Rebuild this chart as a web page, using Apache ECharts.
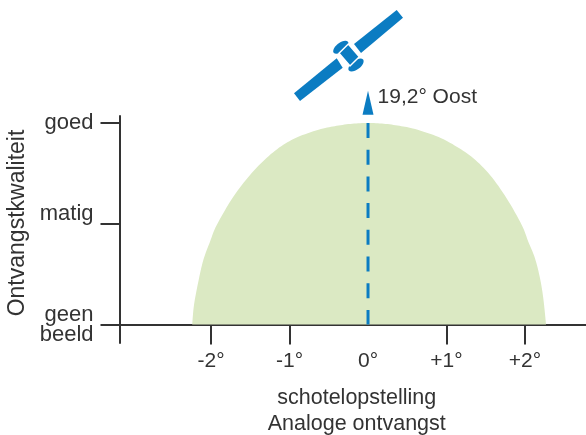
<!DOCTYPE html>
<html><head><meta charset="utf-8">
<style>html,body{margin:0;padding:0;background:#fff}#c{width:586px;height:435px}</style>
<script src="https://cdn.jsdelivr.net/npm/echarts@6/dist/echarts.min.js"></script>
</head><body><div id="c"></div>
<script>
const qualityTicks = [0, 1, 2];
const qualityLabels = ['geen\nbeeld', 'matig\n ', 'goed'];
const offsetLabelValues = [-2, -1, 0, 1, 2];
const offsetLabels = ['-2°', '-1°', '0°', '+1°', '+2°'];
const offsetTickValues = [-2, -1, 1, 2];
const domeX = [-2.24, -2.217, -2.162, -2.098, -2.013, -1.927, -1.716, -1.503, -1.29, -1.079, -0.866, -0.6, -0.4, -0.2, 0, 0.2, 0.4, 0.6, 0.9, 1.13, 1.342, 1.554, 1.767, 1.958, 2.042, 2.127, 2.191, 2.233, 2.268];
const domeY = [0, 0.194, 0.425, 0.64, 0.822, 0.988, 1.268, 1.484, 1.655, 1.784, 1.87, 1.94, 1.972, 1.993, 2, 1.993, 1.972, 1.94, 1.86, 1.765, 1.65, 1.484, 1.251, 0.988, 0.822, 0.657, 0.459, 0.26, 0];
const beamX = [0, 0];
const beamY = [2, 0];
const arrowPoint = [0, 2.2];
const arrowLabel = '19,2° Oost';
const xTitle = 'schotelopstelling\nAnaloge ontvangst';
const yTitle = 'Ontvangstkwaliteit';

const FONT = '"Liberation Sans"', INK = '#333333', BLUE = '#0b7cc2', GREEN = '#dbe9c3';
const chart = echarts.init(document.getElementById('c'), null, {renderer: 'canvas'});
const poly = pts => ({type: 'polygon', shape: {points: pts}, style: {fill: BLUE}, silent: true});
const ell = (x, y) => ({type: 'ellipse', x, y, rotation: 0.66, shape: {cx: 0, cy: 0, rx: 9, ry: 4.5}, style: {fill: BLUE}, silent: true, z: 1});

// Draws the dome through the data points on the axis scales, as one closed smooth area.
function renderDome(params, api) {
  if (params.dataIndex !== 0) return null;
  const p = domeX.map((x, i) => api.coord([x, domeY[i]]));
  const out = [];
  for (let i = 0; i < p.length - 1; i++) {
    const a = p[Math.max(i - 1, 0)], b = p[i], c = p[i + 1], d = p[Math.min(i + 2, p.length - 1)];
    for (let s = 0; s < 8; s++) {
      const t = s / 8, t2 = t * t, t3 = t2 * t;
      out.push([0, 1].map(k => 0.5 * (2 * b[k] + (c[k] - a[k]) * t + (2 * a[k] - 5 * b[k] + 4 * c[k] - d[k]) * t2 + (3 * b[k] - a[k] - 3 * c[k] + d[k]) * t3)));
    }
  }
  out.push(p[p.length - 1]);
  return {type: 'polygon', shape: {points: out}, style: {fill: GREEN}, silent: true};
}

chart.setOption({
  animation: false,
  grid: {left: 119.5, right: 0, top: 116, bottom: 92, containLabel: false, outerBoundsMode: 'none'},
  xAxis: {
    type: 'value', min: -3.166, max: 2.777,
    splitLine: {show: false},
    axisLine: {onZero: true, lineStyle: {color: INK, width: 2}},
    axisTick: {length: 20, inside: false, customValues: offsetTickValues, lineStyle: {color: INK, width: 2}},
    axisLabel: {margin: 8, customValues: offsetLabelValues, color: INK, fontFamily: FONT, fontSize: 21,
      formatter: v => offsetLabels[offsetLabelValues.indexOf(v)]},
    name: xTitle, nameLocation: 'middle', nameGap: 42,
    nameTextStyle: {color: INK, fontFamily: FONT, fontSize: 21.5, lineHeight: 26, padding: [0, 0, 0, 8]}
  },
  yAxis: {
    type: 'value', min: -0.1836, max: 2.0695,
    splitLine: {show: false},
    axisLine: {onZero: false, lineStyle: {color: INK, width: 2}},
    axisTick: {length: 19, customValues: qualityTicks, lineStyle: {color: INK, width: 2}},
    axisLabel: {margin: 26, customValues: qualityTicks, color: INK, fontFamily: FONT, fontSize: 22, lineHeight: 20,
      formatter: v => qualityLabels[qualityTicks.indexOf(v)]},
    name: yTitle, nameLocation: 'middle', nameGap: 89,
    nameTextStyle: {color: INK, fontFamily: FONT, fontSize: 23, padding: [0, 0, 0, 13]}
  },
  series: [
    {type: 'custom', data: domeX.map((x, i) => [x, domeY[i]]), renderItem: renderDome, z: 1, silent: true, clip: false},
    {type: 'line', data: beamX.map((x, i) => [x, beamY[i]]), showSymbol: false, z: 3,
      lineStyle: {color: BLUE, width: 3, type: [15, 11.7]}, silent: true},
    {type: 'scatter', data: [arrowPoint], symbol: 'triangle', symbolSize: [11, 24], clip: false, z: 3,
      itemStyle: {color: BLUE, opacity: 1}, silent: true,
      label: {show: true, position: 'right', distance: 4, offset: [0, -6], formatter: arrowLabel,
        color: INK, fontFamily: FONT, fontSize: 21}}
  ],
  graphic: [
    poly([[396.7, 10], [403, 17.7], [361, 53], [354, 44]]),
    poly([[294, 93.3], [300, 101], [342.7, 67.7], [336.7, 58.3]]),
    ell(340.8, 47.2), ell(356, 65),
    {type: 'polygon', shape: {points: [[348.3, 44], [359.3, 56.7], [350, 66], [339, 53.3]]},
      style: {fill: BLUE, stroke: '#fff', lineWidth: 1.5}, silent: true, z: 2}
  ]
});
</script></body></html>
